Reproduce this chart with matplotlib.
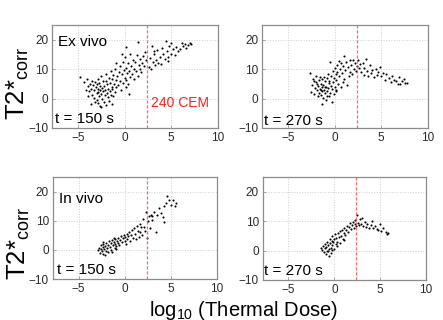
import matplotlib
matplotlib.use("Agg")
import matplotlib.pyplot as plt

plt.rcParams["font.family"] = ["Liberation Sans", "DejaVu Sans"]
plt.rcParams["mathtext.fontset"] = "custom"
plt.rcParams["mathtext.rm"] = "Liberation Sans"

# thermal dose threshold: log10(240 CEM)
CEM_LINE = 2.38

# Ex vivo, t = 150 s
exvivo_150 = [
    (-4.8, 7.2), (-4.3, 5.5), (-4.0, 6.8), (-3.9, 4.2), (-3.8, 2.5), (-3.7, 5.1), (-3.6, 3.3), (-3.5, 1.2),
    (-3.5, 6.0), (-3.4, 4.5), (-3.3, 0.2), (-3.3, 2.8), (-3.2, 5.6), (-3.1, 3.8), (-3.0, -0.5), (-3.0, 1.8),
    (-3.0, 4.9), (-2.9, 6.8), (-2.9, 2.2), (-2.8, 3.4), (-2.8, -1.5), (-2.7, 0.8), (-2.7, 5.2), (-2.6, 2.9),
    (-2.6, 4.1), (-2.5, -2.8), (-2.5, 1.5), (-2.5, 7.5), (-2.4, 3.6), (-2.4, 0.0), (-2.3, 5.8), (-2.3, 2.4),
    (-2.2, -1.0), (-2.2, 4.4), (-2.1, 1.1), (-2.1, 3.0), (-2.0, 8.3), (-2.0, -2.2), (-2.0, 6.1), (-1.9, 2.0),
    (-1.9, 4.8), (-1.8, 0.5), (-1.8, 3.3), (-1.7, 7.0), (-1.7, -0.8), (-1.6, 5.4), (-1.6, 2.6), (-1.5, 1.3),
    (-1.5, 9.5), (-1.4, 4.0), (-1.4, 6.7), (-1.3, -1.8), (-1.3, 3.1), (-1.2, 8.0), (-1.2, 0.9), (-1.1, 5.0),
    (-1.0, 2.2), (-1.0, 10.2), (-0.9, 6.3), (-0.9, 3.8), (-3.6, -2.0), (-3.9, 1.0), (-4.1, 3.0), (-2.6, -2.5),
    (-3.2, -1.2),
    (-0.8, 7.5), (-0.7, 4.6), (-0.6, 9.0), (-0.5, 11.2), (-0.5, 6.0), (-0.4, 2.8), (-0.3, 8.2), (-0.2, 12.5),
    (-0.2, 5.3), (-0.1, 9.8), (0.0, 7.0), (0.0, 14.0), (0.1, 3.8), (0.1, 10.5), (0.2, 17.6), (0.2, 6.4),
    (0.3, 8.8), (0.4, 12.0), (0.4, 4.8), (0.5, 9.5), (0.6, 7.2), (0.6, 15.2), (0.7, 11.0), (0.8, 8.3),
    (0.9, 13.0), (1.0, 6.5), (1.0, 10.0), (1.1, 12.5), (1.2, 9.2), (1.3, 14.8), (1.4, 19.3), (1.4, 7.8),
    (1.5, 11.5), (1.6, 10.2), (1.7, 13.5), (1.8, 9.0), (1.9, 12.0), (2.0, 14.5), (2.1, 11.2), (2.2, 15.9),
    (2.3, 13.0), (-0.3, 15.0), (0.5, 1.5), (-0.9, 12.0),
    (2.6, 10.8), (2.7, 13.8), (2.8, 10.2), (2.9, 18.0), (3.0, 12.5), (3.1, 15.0), (3.3, 11.5), (3.4, 13.0),
    (3.5, 16.5), (3.6, 12.2), (3.8, 14.0), (3.9, 11.9), (4.0, 17.2), (4.1, 15.2), (4.3, 13.5), (4.4, 19.5),
    (4.5, 16.0), (4.6, 14.2), (4.8, 17.8), (5.0, 19.0), (5.0, 15.0), (5.2, 16.8), (5.4, 14.8), (5.5, 17.5),
    (5.7, 16.0), (5.9, 17.0), (6.1, 18.8), (6.3, 17.8), (6.5, 18.5), (6.6, 17.2), (6.8, 18.2), (7.0, 19.0),
    (7.1, 18.5), (3.2, 16.2), (4.7, 12.8),
]

# Ex vivo, t = 270 s
exvivo_270 = [
    (-2.6, 8.8), (-2.5, 2.2), (-2.4, 4.5), (-2.3, 6.8), (-2.2, 1.5), (-2.1, 3.6), (-2.0, 5.5), (-2.0, 7.8),
    (-1.9, 2.8), (-1.8, 0.8), (-1.8, 4.2), (-1.7, 6.2), (-1.7, 2.0), (-1.6, 3.4), (-1.6, 7.2), (-1.5, 5.0),
    (-1.5, 1.2), (-1.4, -1.9), (-1.4, 3.9), (-1.3, 2.5), (-1.3, 6.5), (-1.2, 0.3), (-1.2, 4.6), (-1.1, 3.0),
    (-1.1, 7.4), (-1.0, 5.8), (-1.0, 1.8), (-0.9, -0.6), (-0.9, 4.0), (-0.8, 2.6), (-0.8, 6.9), (-0.7, 3.5),
    (-0.7, 8.3), (-0.6, 0.9), (-0.6, 5.2), (-0.5, 12.3), (-0.5, 2.0), (-0.4, 4.4), (-0.4, 7.8), (-0.3, -1.1),
    (-0.3, 3.2), (-0.2, 9.5), (-0.2, 5.6), (-0.1, 1.5), (-0.1, 7.0), (0.0, 10.5), (0.0, 4.0), (0.1, 8.5),
    (0.1, 2.5), (0.2, 6.2), (0.3, 11.5), (0.3, 9.0), (0.4, 5.0), (0.5, 12.8), (0.5, 7.6), (0.6, 10.2),
    (0.7, 3.8), (0.7, 12.0), (0.8, 8.8), (0.9, 11.2), (1.0, 14.5), (1.0, 6.5), (1.1, 9.6), (1.2, 12.5),
    (1.3, 4.5), (1.4, 10.8), (1.5, 7.8), (1.6, 13.0), (1.7, 9.0), (1.8, 11.5), (1.9, 8.2), (2.0, 13.2),
    (2.1, 10.0), (2.2, 12.0), (2.3, 9.3), (2.4, 11.0), (2.5, 13.0), (2.6, 10.5), (2.7, 11.8), (2.8, 9.0),
    (-1.9, 5.0), (-1.0, 3.8), (-0.6, 6.0), (-1.5, 2.8), (-2.2, 6.0), (-0.8, 1.0), (0.2, 3.0), (0.9, 5.5),
    (3.0, 12.2), (3.1, 8.0), (3.2, 10.5), (3.4, 13.6), (3.5, 9.5), (3.6, 7.5), (3.8, 11.5), (3.9, 8.8),
    (4.0, 9.8), (4.2, 7.2), (4.4, 10.2), (4.5, 8.0), (4.7, 9.0), (4.9, 10.8), (5.0, 7.8), (5.2, 8.6),
    (5.4, 6.2), (5.5, 8.2), (5.8, 7.0), (6.0, 5.5), (6.2, 7.5), (6.4, 6.2), (6.6, 5.8), (6.9, 7.4),
    (7.0, 4.8), (7.2, 6.0), (7.4, 6.8), (7.5, 5.2), (7.75, 5.3), (6.8, 5.0),
]

# In vivo, t = 150 s
invivo_150 = [
    (-2.9, -0.2), (-2.8, 0.8), (-2.7, -1.0), (-2.6, 0.3), (-2.6, 1.5), (-2.5, -0.5), (-2.4, 0.9), (-2.3, 2.0),
    (-2.3, -1.4), (-2.2, 0.2), (-2.1, 1.2), (-2.0, -0.3), (-2.0, 2.5), (-1.9, 0.7), (-1.8, 1.8), (-1.8, -0.8),
    (-1.7, 3.0), (-1.6, 1.0), (-1.5, 2.2), (-1.5, 0.0), (-1.4, 3.4), (-1.3, 1.6), (-1.2, 2.8), (-1.1, 0.8),
    (-1.0, 3.6), (-1.0, 2.0), (-0.9, 1.2), (-0.8, 3.0), (-0.7, 4.2), (-0.7, 2.4), (-0.6, 1.5), (-0.5, 3.3),
    (-0.4, 4.8), (-0.3, 2.6), (-0.2, 3.9), (-0.1, 5.2), (0.0, 3.0), (0.0, 4.4), (0.1, 2.0), (0.2, 5.6),
    (0.3, 3.6), (0.4, 4.8), (0.5, 6.2), (0.6, 3.2), (0.7, 5.0), (0.8, 6.8), (0.9, 4.2), (1.0, 7.5),
    (1.1, 5.6), (1.2, 3.8), (1.3, 8.2), (1.4, 6.5), (1.5, 4.5), (1.6, 9.0), (1.7, 6.0), (1.8, 7.8),
    (1.9, 5.2), (2.0, 10.5), (2.1, 8.0), (2.2, 6.4), (2.26, 13.1), (2.45, 4.2), (2.5, 9.8), (2.6, 11.6),
    (2.7, 7.6), (2.8, 12.0), (2.9, 10.4), (3.0, 11.6), (3.2, 13.0), (3.4, 6.2), (3.5, 12.0), (3.7, 14.3),
    (3.9, 12.6), (4.1, 11.4), (4.2, 15.2), (4.3, 9.7), (4.5, 16.0), (4.6, 18.4), (4.8, 17.0), (5.0, 15.5),
    (5.2, 17.2), (5.5, 16.0), (5.4, 15.0), (-2.1, -1.6), (-1.4, -0.8), (-0.9, 0.2), (-2.4, 2.6), (-1.2, 4.0),
]

# In vivo, t = 270 s
invivo_270 = [
    (-1.45, 0.9), (-1.3, 0.2), (-1.2, 1.5), (-1.1, -0.5), (-1.0, 0.8), (-1.0, 2.2), (-0.9, -1.2), (-0.9, 1.2),
    (-0.8, 0.0), (-0.8, 3.0), (-0.7, 1.8), (-0.6, -1.8), (-0.6, 0.5), (-0.5, 2.5), (-0.5, 4.0), (-0.4, 1.0),
    (-0.4, -0.8), (-0.3, 3.2), (-0.2, 1.8), (-0.2, 4.8), (-0.1, 2.8), (0.0, 0.6), (0.0, 3.8), (0.1, 5.5),
    (0.2, 2.2), (0.2, 4.2), (0.3, 3.0), (0.4, 5.8), (0.5, 4.5), (0.6, 2.6), (0.6, 6.5), (0.7, 5.0),
    (0.8, 7.0), (0.9, 4.0), (1.0, 6.0), (1.1, 7.8), (1.2, 5.2), (1.3, 7.0), (1.4, 8.5), (1.5, 6.2),
    (1.6, 8.0), (1.7, 9.2), (1.8, 7.2), (1.9, 8.8), (2.0, 9.8), (2.1, 7.8), (2.2, 9.0), (2.3, 10.5),
    (2.4, 8.2), (2.5, 12.0), (2.6, 9.5), (2.7, 8.8), (2.8, 10.8), (2.9, 9.0), (3.0, 11.2), (3.1, 8.4),
    (3.3, 9.6), (3.4, 8.0), (3.6, 9.0), (3.8, 7.5), (4.0, 8.8), (4.1, 10.2), (4.2, 7.8), (4.4, 8.2),
    (4.6, 7.2), (4.8, 7.0), (5.0, 9.0), (5.1, 6.8), (5.3, 7.5), (5.6, 6.2), (5.7, 5.5), (5.8, 6.0),
    (-0.7, -0.3), (0.3, 1.5), (-0.3, 0.2), (1.0, 3.5),
]

x_ticks = [-5, 0, 5, 10]
y_ticks = [-10, 0, 10, 20]

# (data, left, bottom, width, height, label, label_y, time label, time_x, time_y)
panels = [
    (exvivo_150, 0.118, 0.600, 0.374, 0.322, "Ex vivo", 0.80, "t = 150 s", 0.018, 0.045),
    (exvivo_270, 0.592, 0.600, 0.374, 0.322, None, None, "t = 270 s", 0.010, 0.030),
    (invivo_150, 0.120, 0.128, 0.370, 0.319, "In vivo", 0.745, "t = 150 s", 0.024, 0.050),
    (invivo_270, 0.594, 0.125, 0.368, 0.322, None, None, "t = 270 s", 0.006, 0.050),
]

fig = plt.figure(figsize=(4.43, 3.2), dpi=100)
axes = []
for pts, l, b, w, h, lab, lab_y, tlab, tx, ty in panels:
    ax = fig.add_axes([l, b, w, h])
    xs = [p[0] for p in pts]
    ys = [p[1] for p in pts]
    ax.plot(xs, ys, "k.", markersize=3.0, markeredgewidth=0)
    ax.axvline(CEM_LINE, color="#ff4040", ls=(0, (2.5, 1.5)), lw=0.9, alpha=0.8)
    ax.set_xlim(-7.75, 10)
    ax.set_ylim(-10, 25)
    ax.set_xticks(x_ticks)
    ax.set_yticks(y_ticks)
    ax.grid(True, ls=":", color="#cfcfcf", lw=0.7)
    ax.tick_params(direction="in", length=2, width=0.6, colors="#999999",
                   labelsize=8.5, labelcolor="#2a2a2a", pad=3)
    for s in ax.spines.values():
        s.set_color("#8c8c8c")
        s.set_linewidth(0.9)
    if lab:
        ax.text(0.036, lab_y, lab, transform=ax.transAxes, fontsize=11, va="baseline")
    ax.text(tx, ty, tlab, transform=ax.transAxes, fontsize=11, va="baseline")
    axes.append(ax)

axes[0].text(0.595, 0.20, "240 CEM", transform=axes[0].transAxes, fontsize=10,
             color="#ff2020", va="baseline")

ylab = r"T2*$_{\mathregular{corr}}$"
fig.text(0.040, 0.74, ylab, rotation=90, fontsize=18.5, ha="center", va="center")
fig.text(0.042, 0.24, ylab, rotation=90, fontsize=18.5, ha="center", va="center")
fig.text(0.551, 0.014, r"log$_{\mathregular{10}}$ (Thermal Dose)", fontsize=14.5,
         ha="center", va="baseline")

fig.savefig("out.png", dpi=100)
